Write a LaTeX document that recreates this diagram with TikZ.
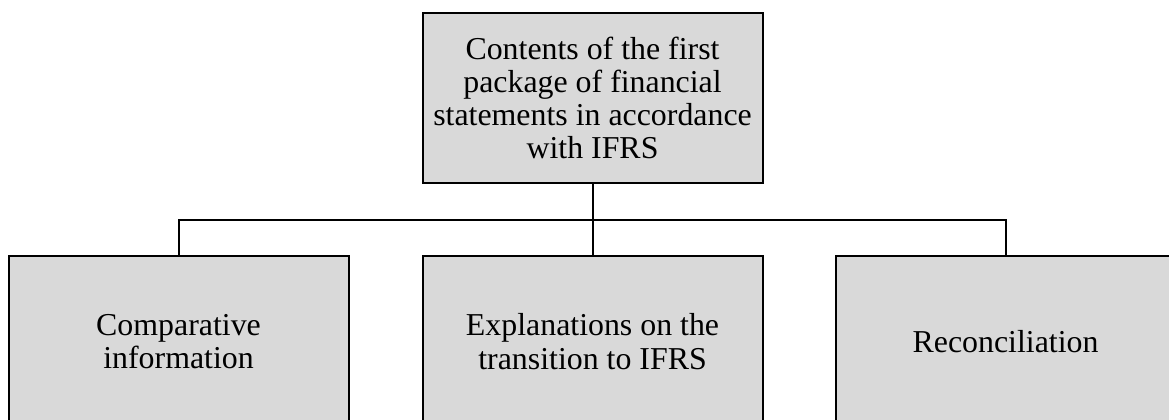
\documentclass[tikz,border=0pt]{standalone}
\usepackage{fontspec}
\setmainfont{Liberation Serif}
\usetikzlibrary{positioning}
\tikzstyle{ifrsbox}=[rectangle, draw=black, fill=black!15, line width=1.5pt, minimum width=255pt, minimum height=128pt, inner sep=2pt, align=center, font=\fontsize{23.9}{24.9}\selectfont]
\tikzstyle{line}=[-, line width=1.5pt]

\begin{document}
\begin{tikzpicture}[node distance=0mm]

    \useasboundingbox (0,0) rectangle (876.75pt,-315pt);
    \clip (0,0) rectangle (876.75pt,-315pt);

    \node (cont) [ifrsbox] at (444.4pt,-73.5pt) {Contents of the first\\ package of financial\\ statements in accordance\\ with IFRS};

    \node (expl) [ifrsbox, below=53.25pt of cont] {Explanations on the\\ transition to IFRS};
    \node (comp) [ifrsbox, left=54pt of expl] {Comparative\\ information};
    \node (reco) [ifrsbox, right=53.25pt of expl] {Reconciliation};

%tree lines
   \draw[line] (comp.north) -- ++(0,26.25pt) -| (cont.south);
   \draw[line] (expl.north) -- ++(0,26.25pt) -| (cont.south);
   \draw[line] (reco.north) -- ++(0,26.25pt) -| (cont.south);

\end{tikzpicture}
\end{document}
